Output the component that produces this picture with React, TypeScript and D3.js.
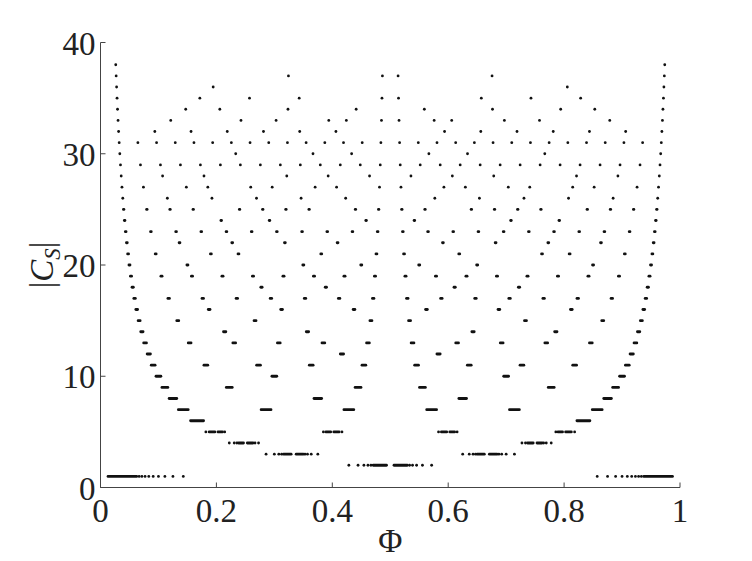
import React from 'react';
import * as d3 from 'd3';

const W = 752;
const H = 561;

// axis ticks
const xTicks = [0, 0.2, 0.4, 0.6, 0.8, 1];
const xTickLabels = ['0', '0.2', '0.4', '0.6', '0.8', '1'];
const yTicks = [0, 10, 20, 30, 40];

// |C_S| levels 6..38 : numerators k of the point groups seen at Φ ≈ k / level
const groupLevels = [6, 7, 8, 9, 10, 11, 12, 13, 14, 15, 16, 17, 18, 19, 20, 21, 22, 23, 24, 25, 26, 27, 28, 29, 30, 31, 32, 33, 34, 35, 36, 37, 38];
const groupNumerators: number[][] = [
  [1, 5],
  [1, 2, 3, 4, 5, 6],
  [1, 3, 5, 7],
  [1, 2, 4, 5, 7, 8],
  [1, 3, 7, 9],
  [1, 2, 3, 4, 5, 6, 7, 8, 9, 10],
  [1, 5, 7, 11],
  [1, 2, 3, 4, 5, 6, 7, 8, 9, 10, 11, 12],
  [1, 3, 5, 9, 11, 13],
  [1, 2, 4, 7, 8, 11, 13, 14],
  [1, 3, 5, 7, 9, 11, 13, 15],
  [1, 2, 3, 4, 5, 6, 7, 8, 9, 10, 11, 12, 13, 14, 15, 16],
  [1, 5, 7, 11, 13, 17],
  [1, 2, 3, 4, 5, 6, 7, 8, 9, 10, 11, 12, 13, 14, 15, 16, 17, 18],
  [1, 3, 7, 9, 11, 13, 17, 19],
  [1, 2, 4, 5, 8, 10, 11, 13, 16, 17, 19, 20],
  [1, 3, 5, 7, 9, 13, 15, 17, 19, 21],
  [1, 2, 3, 4, 5, 6, 7, 8, 9, 10, 11, 12, 13, 14, 15, 16, 17, 18, 19, 20, 21, 22],
  [1, 5, 7, 11, 13, 17, 19, 23],
  [1, 2, 3, 4, 6, 7, 8, 9, 11, 12, 13, 14, 16, 17, 18, 19, 21, 22, 23, 24],
  [1, 3, 5, 7, 9, 11, 15, 17, 19, 21, 23, 25],
  [1, 2, 4, 5, 7, 8, 10, 11, 13, 14, 16, 17, 19, 20, 22, 23, 25, 26],
  [1, 3, 5, 9, 11, 13, 15, 17, 19, 23, 25, 27],
  [1, 2, 3, 4, 5, 6, 7, 8, 9, 10, 11, 12, 13, 14, 15, 16, 17, 18, 19, 20, 21, 22, 23, 24, 25, 26, 27, 28],
  [1, 7, 11, 13, 17, 19, 23, 29],
  [1, 2, 3, 4, 5, 6, 7, 8, 9, 10, 11, 12, 13, 14, 15, 16, 17, 18, 19, 20, 21, 22, 23, 24, 25, 26, 27, 28, 29, 30],
  [1, 3, 5, 7, 9, 11, 13, 19, 21, 23, 25, 27, 29, 31],
  [1, 4, 8, 10, 13, 14, 16, 17, 19, 20, 23, 25, 29, 32],
  [1, 5, 7, 11, 15, 19, 23, 27, 29, 33],
  [1, 6, 9, 12, 17, 18, 23, 26, 29, 34],
  [1, 7, 29, 35],
  [1, 12, 18, 19, 25, 36],
  [1, 37],
];
// half extent (in Φ) of each group's run of points, per level
const groupHalfSpan = [0.0112, 0.0085, 0.0066, 0.0051, 0.0042, 0.0033, 0.0028, 0.0024, 0.002, 0.0017, 0.0015, 0.0013, 0.0011, 0.001, 0.0009, 0.0008, 0.0007, 0.0006, 0.0005, 0.0004, 0, 0, 0, 0, 0, 0, 0, 0, 0, 0, 0, 0, 0];

// levels 1..5: isolated points [level, Φ]
const lowDots: [number, number][] = [
  [1, 0.14286], [1, 0.125], [1, 0.11111], [1, 0.1], [1, 0.09091], [1, 0.08333], [1, 0.07692], [1, 0.07143], [1, 0.06667],
  [1, 0.85714], [1, 0.875], [1, 0.88889], [1, 0.9], [1, 0.90909], [1, 0.91667], [1, 0.92308], [1, 0.92857], [1, 0.93333],
  [2, 0.42857], [2, 0.44444], [2, 0.45455], [2, 0.46154], [2, 0.46667],
  [2, 0.53333], [2, 0.53846], [2, 0.54545], [2, 0.55556], [2, 0.57143],
  [3, 0.28571], [3, 0.3], [3, 0.30769], [3, 0.3125], [3, 0.35294], [3, 0.35714], [3, 0.36364], [3, 0.375],
  [3, 0.625], [3, 0.63636], [3, 0.64286], [3, 0.64706], [3, 0.6875], [3, 0.69231], [3, 0.7], [3, 0.71429],
  [4, 0.22222], [4, 0.23077], [4, 0.23529], [4, 0.26667], [4, 0.27273],
  [4, 0.72727], [4, 0.73333], [4, 0.76471], [4, 0.76923], [4, 0.77778],
  [5, 0.18182], [5, 0.21429], [5, 0.38462], [5, 0.41667], [5, 0.58333], [5, 0.61538], [5, 0.78571], [5, 0.81818],
];
// levels 1..5: dense runs of points [level, Φ from, Φ to]
const lowSpans: [number, number, number][] = [
  [1, 0.01299, 0.0625], [1, 0.9375, 0.98701],
  [2, 0.47059, 0.49351], [2, 0.50649, 0.52941],
  [3, 0.31579, 0.32895], [3, 0.33766, 0.35], [3, 0.65, 0.66234], [3, 0.67105, 0.68421],
  [4, 0.2381, 0.24675], [4, 0.25333, 0.26316], [4, 0.73684, 0.74667], [4, 0.75325, 0.7619],
  [5, 0.1875, 0.19737], [5, 0.2027, 0.21053], [5, 0.38889, 0.39726], [5, 0.4026, 0.41176],
  [5, 0.58824, 0.5974], [5, 0.60274, 0.61111], [5, 0.78947, 0.7973], [5, 0.80263, 0.8125],
];

const FONT = '"Liberation Serif", "Times New Roman", Times, serif';
const INK = '#111';
const TXT = '#222';
const R = 1.4;

export default function App() {
  const x = d3.scaleLinear().domain([0, 1]).range([100.5, 680]);
  const y = d3.scaleLinear().domain([0, 40]).range([487.5, 42.5]);

  const dashes: { x1: number; x2: number; yy: number }[] = [];
  const dots: { cx: number; cy: number }[] = [];

  groupLevels.forEach((n, i) => {
    const h = groupHalfSpan[i];
    groupNumerators[i].forEach((k) => {
      const c = k / n;
      if (h > 0) dashes.push({ x1: x(c - h), x2: x(c + h), yy: y(n) });
      else dots.push({ cx: x(c), cy: y(n) });
    });
  });
  lowDots.forEach(([n, p]) => dots.push({ cx: x(p), cy: y(n) }));
  lowSpans.forEach(([n, a, b]) => dashes.push({ x1: x(a), x2: x(b), yy: y(n) }));

  return (
    <svg
      width={W}
      height={H}
      viewBox={`0 0 ${W} ${H}`}
      style={{ position: 'absolute', left: 0, top: 0, background: '#fff' }}
      fontFamily={FONT}
    >
      <rect x={0} y={0} width={W} height={H} fill="#fff" />
      {/* points */}
      <g>
        {dashes.map((d, i) => (
          <line key={'d' + i} x1={d.x1} x2={d.x2} y1={d.yy} y2={d.yy} stroke={INK} strokeWidth={R * 2} strokeLinecap="round" />
        ))}
        {dots.map((d, i) => (
          <circle key={'c' + i} cx={d.cx} cy={d.cy} r={R} fill={INK} />
        ))}
      </g>
      {/* axes */}
      <path d={`M${x(0)},${y(40)}V${y(0)}H${x(1)}`} fill="none" stroke="#444" strokeWidth={1} />
      {yTicks.map((t) => (
        <g key={'y' + t}>
          <line x1={x(0)} x2={x(0) + 5} y1={y(t)} y2={y(t)} stroke="#444" strokeWidth={1} />
          <text x={x(0) - 5} y={y(t) + 12} textAnchor="end" fontSize={33} fill={TXT}>
            {t}
          </text>
        </g>
      ))}
      {xTicks.map((t, i) => (
        <g key={'x' + t}>
          <line x1={x(t)} x2={x(t)} y1={y(0)} y2={y(0) - 5} stroke="#444" strokeWidth={1} />
          <text x={x(t)} y={522} textAnchor="middle" fontSize={33} fill={TXT}>
            {xTickLabels[i]}
          </text>
        </g>
      ))}
      {/* axis labels */}
      <text x={(x(0) + x(1)) / 2} y={551.5} textAnchor="middle" fontSize={33} fill={TXT}>
        Φ
      </text>
      <text transform={`translate(53, ${(y(0) + y(40)) / 2}) rotate(-90)`} textAnchor="middle" fontSize={33} fill={TXT}>
        |<tspan fontStyle="italic">C</tspan>
        <tspan fontStyle="italic" fontSize={23} dy={7}>S</tspan>
        <tspan dy={-7}>|</tspan>
      </text>
    </svg>
  );
}
